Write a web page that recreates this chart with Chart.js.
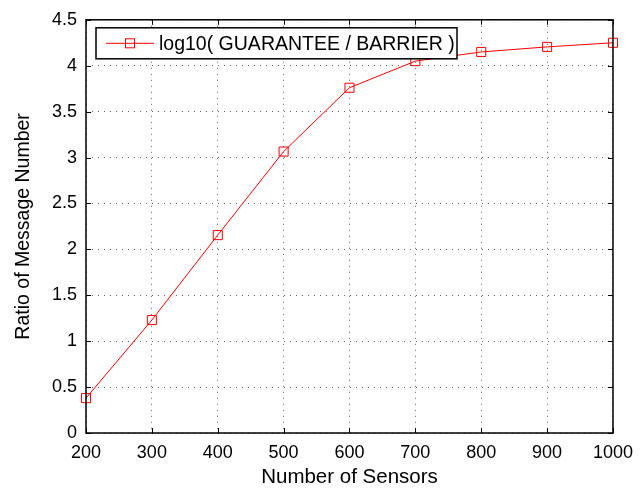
<!DOCTYPE html>
<html lang="en">
<head>
    <meta charset="UTF-8">
    <title>Ratio of Message Number</title>
    <script src="https://cdn.jsdelivr.net/npm/chart.js"></script>
    <style>
        html, body { margin: 0; padding: 0; background: #fff; }
        #wrap { width: 642px; height: 490px; }
    </style>
</head>
<body>
    <div id="wrap"><canvas id="ratioChart" width="642" height="490"></canvas></div>

    <script>
        // values
        const sensors = [200, 300, 400, 500, 600, 700, 800, 900, 1000];
        const ratio = [0.38, 1.23, 2.155, 3.065, 3.76, 4.05, 4.15, 4.205, 4.25];
        const xTicks = [200, 300, 400, 500, 600, 700, 800, 900, 1000];
        const yTicks = [0, 0.5, 1, 1.5, 2, 2.5, 3, 3.5, 4, 4.5];
        const seriesLabel = 'log10( GUARANTEE / BARRIER )';

        const FONT = 'Liberation Sans, Arial, sans-serif';

        // black frame + inward tick marks on all four sides
        const framePlugin = {
            id: 'frame',
            afterDraw(chart) {
                const { ctx, chartArea: a, scales: { x, y } } = chart;
                ctx.save();
                ctx.strokeStyle = '#000';
                ctx.lineWidth = 1;
                ctx.beginPath();
                const tl = 5;
                x.ticks.forEach((t, i) => {
                    const px = Math.round(x.getPixelForTick(i)) + 0.5;
                    ctx.moveTo(px, a.bottom); ctx.lineTo(px, a.bottom - tl);
                    ctx.moveTo(px, a.top); ctx.lineTo(px, a.top + tl);
                });
                y.ticks.forEach((t, i) => {
                    const py = Math.round(y.getPixelForTick(i)) + 0.5;
                    ctx.moveTo(a.left, py); ctx.lineTo(a.left + tl, py);
                    ctx.moveTo(a.right, py); ctx.lineTo(a.right - tl, py);
                });
                ctx.stroke();
                ctx.lineWidth = 1.5;
                ctx.strokeRect(a.left, a.top, a.right - a.left, a.bottom - a.top);
                ctx.restore();
            }
        };

        // boxed legend in the top-left corner of the plot
        const boxLegend = {
            id: 'boxLegend',
            afterDraw(chart) {
                const { ctx, chartArea: a } = chart;
                const ds = chart.data.datasets[0];
                const bx = a.left + 10, by = a.top + 8, bw = 361, bh = 31;
                ctx.save();
                ctx.fillStyle = '#fff';
                ctx.fillRect(bx, by, bw, bh);
                ctx.strokeStyle = '#000';
                ctx.lineWidth = 1.5;
                ctx.strokeRect(bx, by, bw, bh);

                const cy = by + bh / 2;
                ctx.strokeStyle = ds.borderColor;
                ctx.lineWidth = 1;
                ctx.beginPath();
                ctx.moveTo(bx + 10, cy); ctx.lineTo(bx + 58, cy);
                ctx.stroke();
                ctx.strokeRect(bx + 29.5, cy - 4.5, 9, 9);

                ctx.fillStyle = '#000';
                ctx.font = '19.5px ' + FONT;
                ctx.textBaseline = 'middle';
                ctx.fillText(ds.label, bx + 63, cy + 1);
                ctx.restore();
            }
        };

        const ctx = document.getElementById('ratioChart').getContext('2d');
        const ratioChart = new Chart(ctx, {
            type: 'line',
            data: {
                datasets: [{
                    label: seriesLabel,
                    data: sensors.map((s, i) => ({ x: s, y: ratio[i] })),
                    borderColor: '#ff0000',
                    borderWidth: 1,
                    pointStyle: 'rect',
                    pointRadius: 6.4,
                    pointBorderWidth: 1,
                    pointBorderColor: '#ff0000',
                    pointBackgroundColor: 'rgba(0,0,0,0)',
                    tension: 0,
                    clip: false
                }]
            },
            options: {
                responsive: false,
                animation: false,
                layout: { padding: { top: 19, right: 29, left: 0, bottom: 0 } },
                plugins: {
                    legend: { display: false },
                    tooltip: { enabled: false }
                },
                scales: {
                    x: {
                        type: 'linear',
                        min: 200,
                        max: 1000,
                        afterBuildTicks: s => { s.ticks = xTicks.map(v => ({ value: v })); },
                        afterFit: s => { s.height = 57; },
                        ticks: {
                            padding: 9,
                            color: '#000',
                            font: { family: FONT, size: 18 },
                            maxRotation: 0,
                            callback: v => String(v)
                        },
                        grid: { drawTicks: false, color: '#666', lineWidth: 1 },
                        border: { display: false, dash: [1, 5] },
                        title: {
                            display: true,
                            text: 'Number of Sensors',
                            color: '#000',
                            font: { family: FONT, size: 20.5 },
                            padding: { top: 0, bottom: 0 }
                        }
                    },
                    y: {
                        min: 0,
                        max: 4.5,
                        afterBuildTicks: s => { s.ticks = yTicks.map(v => ({ value: v })); },
                        afterFit: s => { s.width = 86; },
                        ticks: {
                            padding: 9,
                            color: '#000',
                            font: { family: FONT, size: 18 },
                            callback: v => String(v)
                        },
                        grid: { drawTicks: false, color: '#666', lineWidth: 1 },
                        border: { display: false, dash: [1, 5] },
                        title: {
                            display: true,
                            text: 'Ratio of Message Number',
                            color: '#000',
                            font: { family: FONT, size: 19.5 },
                            padding: { top: 12, bottom: 0 }
                        }
                    }
                }
            },
            plugins: [framePlugin, boxLegend]
        });
    </script>
</body>
</html>
